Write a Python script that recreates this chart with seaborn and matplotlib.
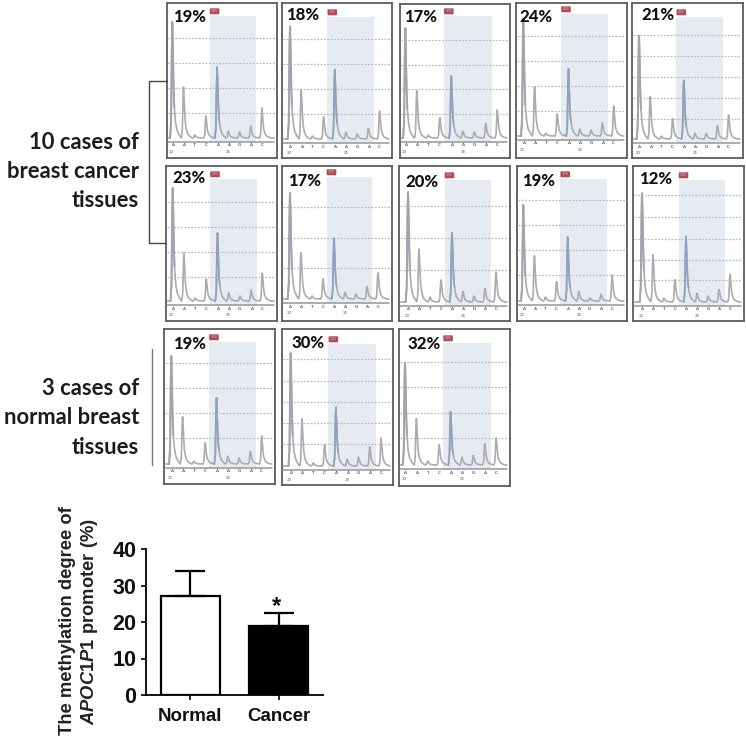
import numpy as np
import pandas as pd
import matplotlib
matplotlib.use('Agg')
import matplotlib.pyplot as plt
import seaborn as sns
from matplotlib.patches import FancyBboxPatch

W, H = 746, 737

# alturas de los picos de cada pirograma
percents = ['19%', '18%', '17%', '24%', '21%', '23%', '17%', '20%', '19%', '12%', '19%', '30%', '32%']
bases = ['A', 'A', 'T', 'C', 'A', 'A', 'G', 'A', 'C']
p01 = [116, 51, 3, 22, 71, 7, 6, 12, 30]
p02 = [117, 51, 3, 23, 72, 7, 5, 11, 29]
p03 = [110, 49, 3, 21, 62, 7, 6, 15, 28]
p04 = [117, 51, 3, 23, 67, 7, 6, 14, 30]
p05 = [107, 44, 3, 21, 61, 6, 6, 14, 25]
p06 = [113, 48, 3, 22, 68, 8, 5, 11, 28]
p07 = [110, 48, 3, 21, 63, 7, 5, 13, 27]
p08 = [114, 55, 5, 23, 72, 11, 6, 14, 31]
p09 = [96, 47, 4, 20, 64, 10, 3, 7, 26]
p10 = [113, 49, 4, 23, 68, 9, 6, 13, 29]
p11 = [108, 49, 3, 22, 66, 8, 6, 13, 28]
p12 = [113, 49, 3, 22, 59, 7, 9, 20, 28]
p13 = [106, 48, 4, 21, 55, 8, 10, 22, 28]
peaks = [p01, p02, p03, p04, p05, p06, p07, p08, p09, p10, p11, p12, p13]

# forma de un pico: distancia al maximo y fraccion de la altura
shape_x = [-2.2, -1.2, -0.6, 0, 0.6, 1.2, 1.9, 3.0, 4.5, 6.5, 9.0]
shape_y = [0, 0.15, 0.72, 1, 0.78, 0.48, 0.28, 0.15, 0.07, 0.03, 0]

grids = [
    [101, 76, 51, 26], [101, 76, 51, 26], [99, 74, 50, 25], [101, 76, 51, 26], [105, 84, 63, 42, 21],
    [100, 75, 50, 25], [93, 62, 32], [97, 65, 33], [102, 77, 52, 27], [108, 86, 64, 43, 23],
    [102, 77, 52, 27], [108, 86, 65, 44, 23], [104, 79, 53, 28],
]

# caja de cada panel en pixeles: izquierda, arriba, derecha, abajo, linea base
boxes = [
    (167, 3, 277, 158, 139), (282, 3, 392, 158, 140), (400, 4, 510, 158, 139), (516, 3, 627, 158, 137),
    (632, 3, 743, 158, 140), (166, 166, 277, 321, 302), (282, 166, 392, 321, 300), (399, 166, 510, 321, 303),
    (517, 166, 627, 321, 302), (633, 166, 744, 321, 303), (164, 329, 275, 484, 465), (282, 329, 393, 485, 467),
    (399, 329, 510, 486, 466),
]
first_peak = [5.3, 8, 5.3, 7.3, 7, 6.7, 8, 9, 6.3, 9, 7.3, 8.7, 6]
spacing = [11.2, 11.2, 11.5, 11.3, 11.2, 11.2, 11, 11, 11.1, 11, 11.3, 11.3, 11.4]
label_xy = [
    (173, 17), (286, 15), (404, 17), (519, 17), (641, 15), (172, 178), (288, 181), (405, 182),
    (522, 181), (639, 179), (173, 344), (291, 343), (407, 344),
]

# grafico de barras
groups = ['Normal', 'Cancer']
means = [27, 19]
errs = [7, 3.4]
bar_colors = ['white', 'black']
y_ticks = [0, 10, 20, 30, 40]

sns.set_theme(style='white')
plt.rcParams['font.family'] = ['Lato', 'DejaVu Sans']
plt.rcParams['mathtext.fontset'] = 'custom'
plt.rcParams['mathtext.it'] = 'Liberation Sans:italic:bold'
plt.rcParams['mathtext.rm'] = 'Liberation Sans:bold'

fig = plt.figure(figsize=(W / 100, H / 100), dpi=100, facecolor='white')


def px_axes(left, top, right, bottom, **kw):
    return fig.add_axes([left / W, 1 - bottom / H, (right - left) / W, (bottom - top) / H], **kw)


for i, heights in enumerate(peaks):
    left, top, right, bottom, base = boxes[i]
    ax = px_axes(left, top, right, bottom)
    ax.set_xlim(0, right - left)
    ax.set_ylim(base - bottom, base - top)
    ax.set_xticks([])
    ax.set_yticks([])
    for s in ax.spines.values():
        s.set_color('#5c5c5c')
        s.set_linewidth(1.3)

    sites = [first_peak[i] + n * spacing[i] for n in range(len(heights))]
    ax.fill_between([sites[4] - 7.5, sites[8] - 5.5], -3, 123, color='#e6ebf2', lw=0, zorder=1)
    ax.add_patch(FancyBboxPatch((sites[4] - 6.5, 125.5), 8, 4.4, boxstyle='round,pad=0.8',
                                fc='#b04c57', ec='none', zorder=3))
    ax.text(sites[4] - 2.5, 127.7, percents[i], fontsize=2.5, color='#e0b4b9',
            ha='center', va='center', zorder=4)

    for g in grids[i]:
        ax.plot([1, right - left - 2], [g, g], color='#bcbcbc', lw=0.9, ls=(0, (1.5, 1.2)), zorder=2)

    xs = np.arange(1.5, right - left - 3, 0.2)
    ys = np.full_like(xs, 1.0)
    for site, h in zip(sites, heights):
        ys = np.maximum(ys, 1.0 + h * np.interp(xs - site, shape_x, shape_y))
    trace = pd.DataFrame({'x': xs, 'y': ys})
    sns.lineplot(data=trace, x='x', y='y', ax=ax, color='#ababb0', lw=1.2, estimator=None, zorder=5)
    near = trace[(trace['x'] > sites[4] - 2.5) & (trace['x'] < sites[4] + 2.5)]
    sns.lineplot(data=near, x='x', y='y', ax=ax, color='#8fa1bd', lw=1.2, estimator=None, zorder=6)
    tall = trace[(trace['x'] > sites[0] - 3) & (trace['x'] < sites[0] + 2)]
    sns.lineplot(data=tall, x='x', y='y', ax=ax, color='#a3a3ae', lw=1.4, estimator=None, zorder=6)
    ax.set_xlabel('')
    ax.set_ylabel('')

    ax.plot([1, right - left - 3], [-3.2, -3.2], color='#969696', lw=1.1, zorder=6)
    for site, b in zip(sites, bases):
        ax.text(site, -6.5, b, fontsize=3.2, color='#555555', ha='center', va='center', fontweight='bold')
    ax.text(sites[0] - 1, -13, '20', fontsize=3.2, color='#666666', ha='center', va='center')
    ax.text(sites[5], -13, '25', fontsize=3.2, color='#666666', ha='center', va='center')

# capa de anotaciones en pixeles
over = fig.add_axes([0, 0, 1, 1], zorder=20)
over.set_xlim(0, W)
over.set_ylim(H, 0)
over.axis('off')
over.patch.set_alpha(0)

for pct, (x, y) in zip(percents, label_xy):
    over.text(x, y, pct, fontsize=12, fontweight='black', color='#111111', ha='left', va='center')

for y, txt in zip([142, 171, 200], ['10 cases of', 'breast cancer', 'tissues']):
    over.text(139, y, txt, fontsize=15.8, fontweight='bold', color='#1c1c1c', ha='right', va='center')
for y, txt in zip([388, 417, 447], ['3 cases of', 'normal breast', 'tissues']):
    over.text(139, y, txt, fontsize=15.8, fontweight='bold', color='#1c1c1c', ha='right', va='center')

over.plot([167, 148.5, 148.5, 166], [81, 81, 243, 243], color='#444444', lw=1.0)
over.plot([152, 152], [349, 465], color='#777777', lw=1.0)

# barras
ax = px_axes(146, 549, 323, 695)
table = pd.DataFrame({'group': groups, 'mean': means})
sns.barplot(data=table, x='group', y='mean', hue='group', palette=bar_colors, dodge=False, legend=False,
            ax=ax, width=0.67, edgecolor='black', linewidth=1.6, errorbar=None)
ax.errorbar([0, 1], means, yerr=[[0, 0], errs], fmt='none', ecolor='black', elinewidth=1.6, capsize=10.5, capthick=1.6)
ax.set_xlim(-0.5, 1.5)
ax.set_ylim(0, 40)
ax.set_yticks(y_ticks)
ax.set_xlabel('')
ax.set_ylabel('')
ax.patch.set_alpha(0)
sns.despine(ax=ax)
for side in ['left', 'bottom']:
    ax.spines[side].set_linewidth(1.3)
    ax.spines[side].set_color('black')
ax.tick_params(axis='both', length=3.5, width=1.2, color='black', left=True, bottom=True)
for t in ax.get_yticklabels():
    t.set(fontfamily='Liberation Sans', fontweight='bold', fontsize=15.5, color='#111111')
for t in ax.get_xticklabels():
    t.set(fontfamily='Liberation Sans', fontweight='bold', fontsize=13.5, color='#111111')
ax.tick_params(axis='x', pad=6)

over.text(277, 607, '*', fontsize=17, fontweight='bold', fontfamily='Liberation Sans', ha='center', va='center', color='#111111')
over.text(68, 621, 'The methylation degree of', fontsize=13.2, fontweight='bold', fontfamily='Liberation Sans',
          rotation=90, ha='center', va='center', color='#222222')
over.text(90, 622, r'$\mathit{APOC1P1}$ promoter (%)', fontsize=13.2, fontweight='bold', fontfamily='Liberation Sans',
          rotation=90, ha='center', va='center', color='#222222')

fig.savefig('out.png', dpi=100, facecolor='white')
